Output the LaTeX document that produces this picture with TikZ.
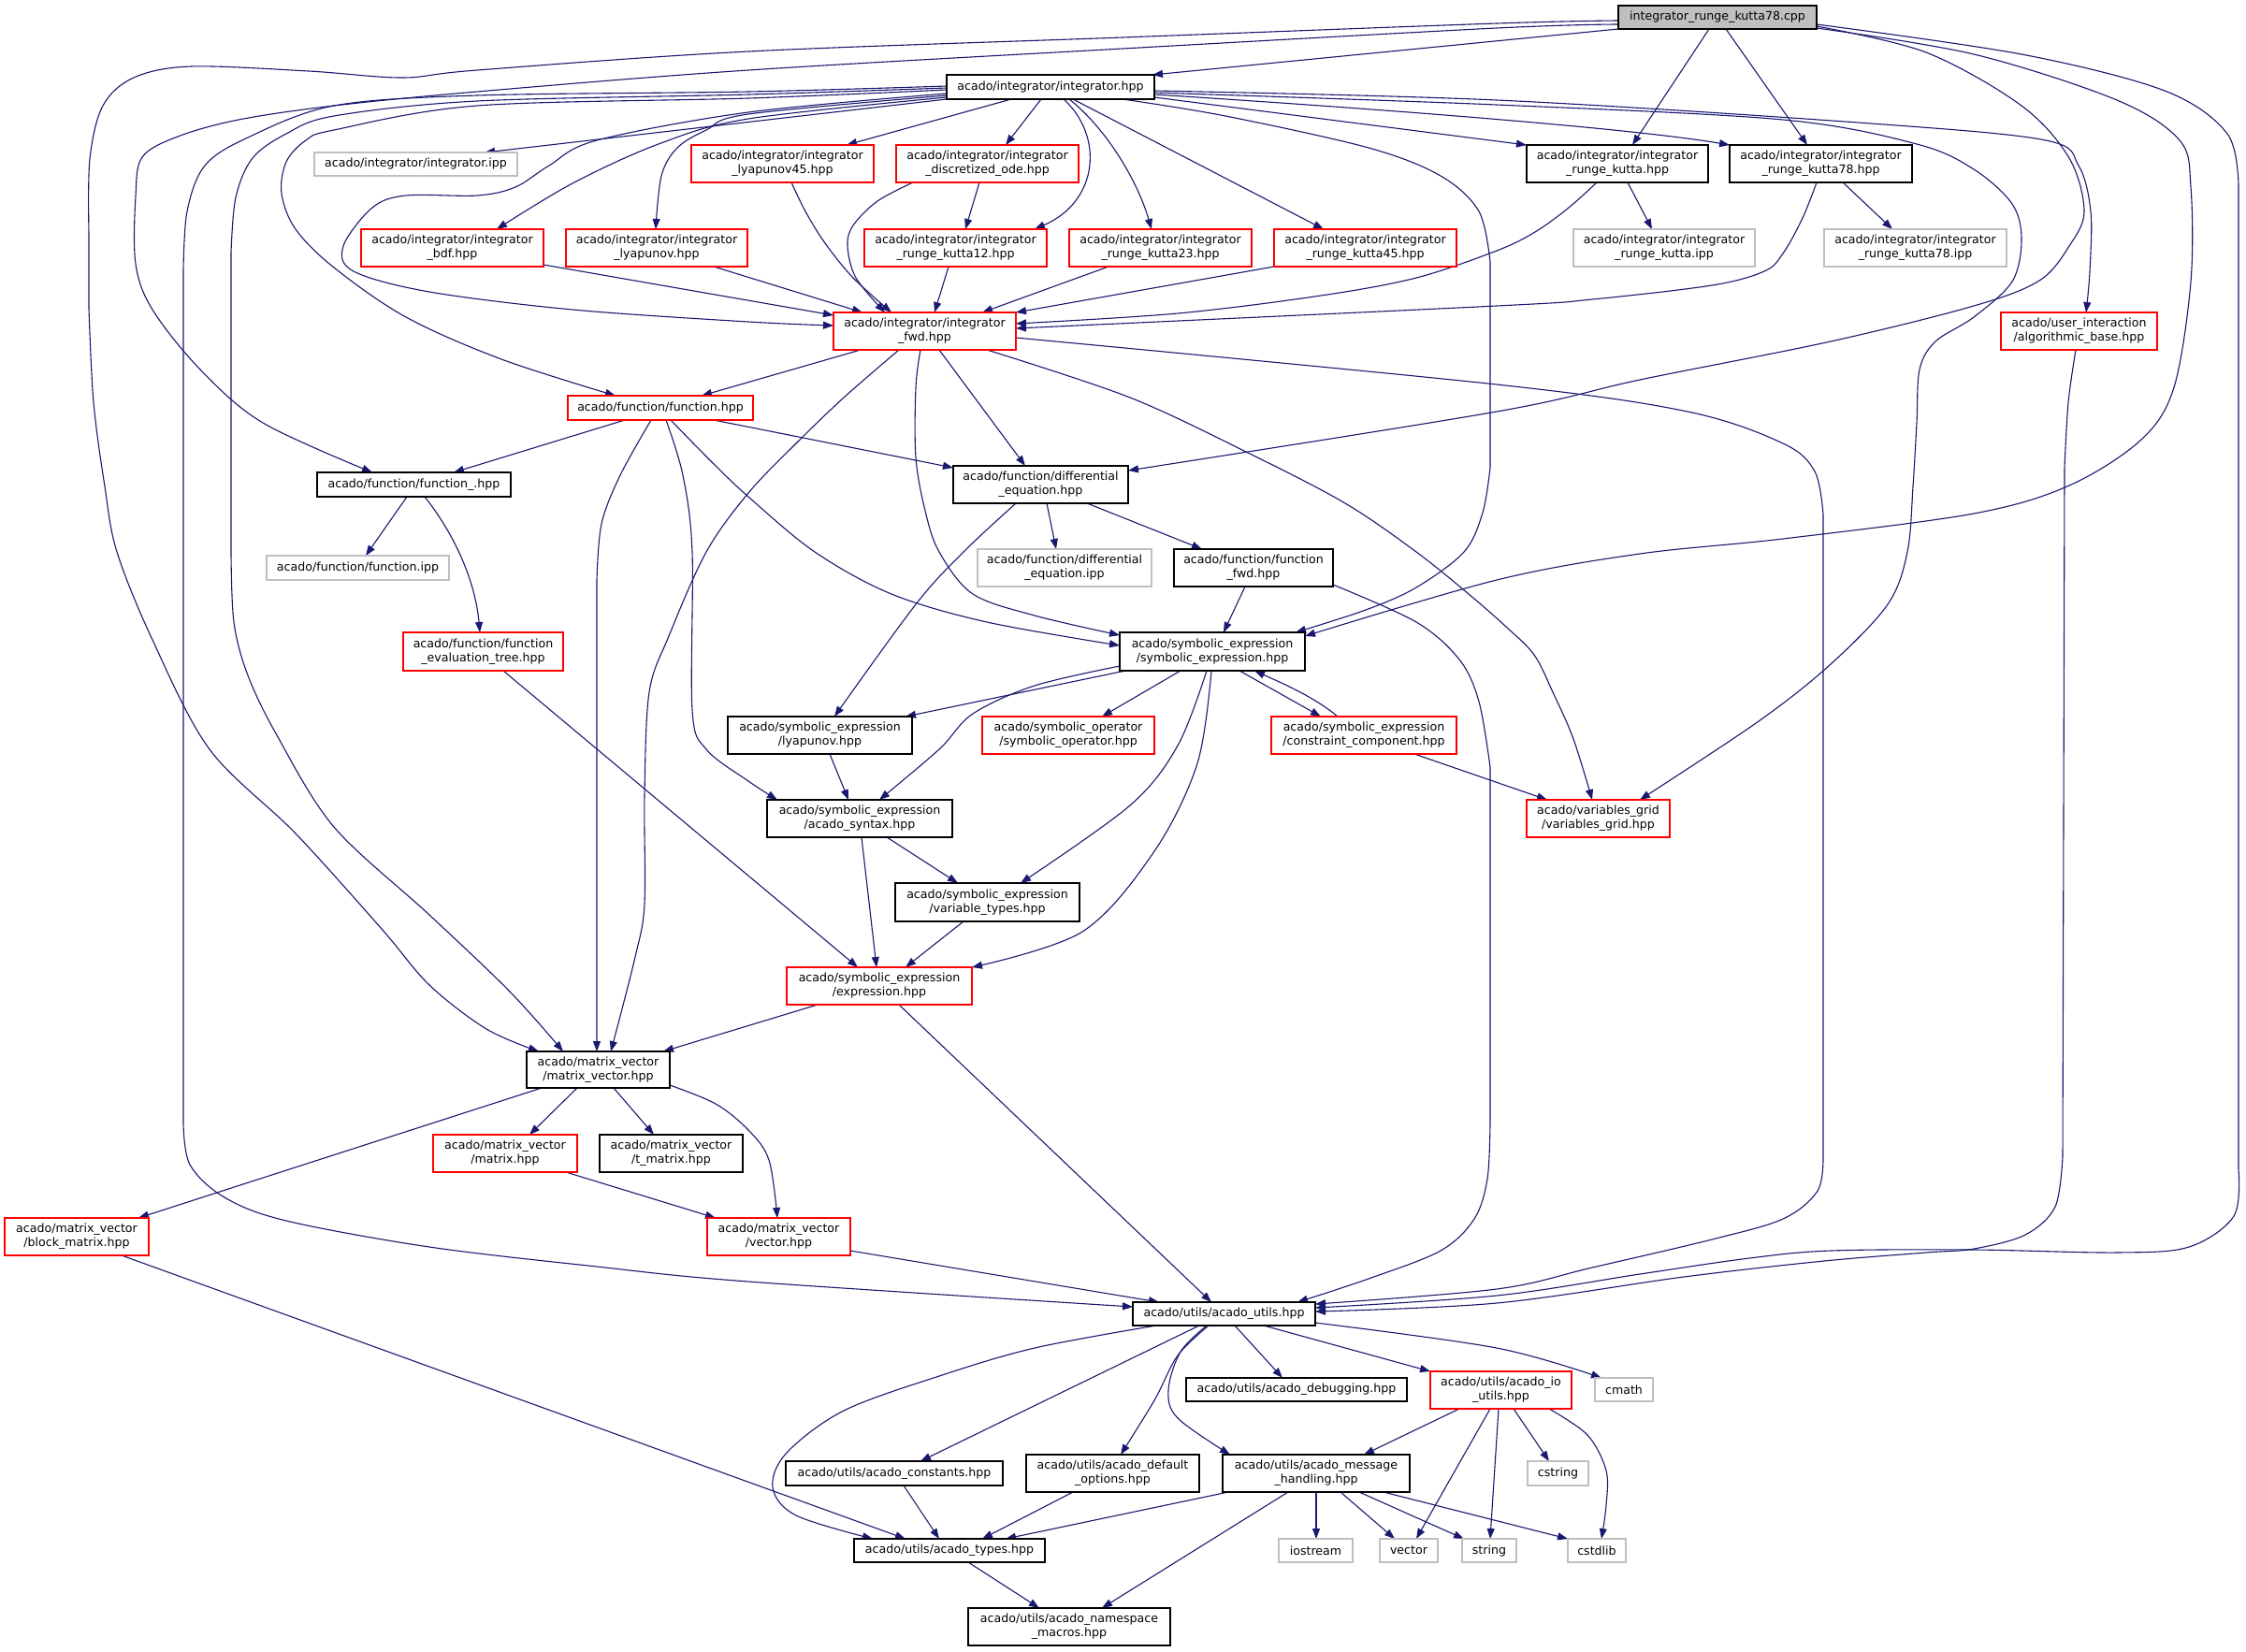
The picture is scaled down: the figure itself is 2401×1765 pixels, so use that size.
\documentclass[tikz,border=0pt]{standalone}
\usepackage{fontspec}
\setmainfont{DejaVu Sans}
\usetikzlibrary{arrows.meta}
\definecolor{edgecol}{HTML}{191970}
\definecolor{boxgray}{HTML}{BFBFBF}
\definecolor{boxred}{HTML}{FF0000}
\pgfdeclarelayer{bglayer}
\pgfdeclarelayer{edgelayer}
\pgfsetlayers{bglayer,edgelayer,main}
\newcommand\mybox[7]{\node[#1,anchor=north west,minimum width=#4pt,minimum height=#5pt] (#6) at (#2,#3) {#7};}
\begin{document}
\begin{tikzpicture}[x=1pt,y=-1pt,
  base/.style={draw,fill=white,line width=1.3pt,inner sep=0pt,outer sep=0pt,align=center,font=\fontsize{12.6}{15}\selectfont,text=black},
  bk/.style={base,draw=black},
  rd/.style={base,draw=boxred},
  gy/.style={base,draw=boxgray},
  rt/.style={base,draw=black,fill=boxgray},
  edg/.style={draw=edgecol,line width=1.1pt,-{Triangle[length=11pt,width=8pt]}}]
\useasboundingbox (0,0) rectangle (2401,1765);
\begin{pgfonlayer}{bglayer}
\fill[white] (0,0) rectangle (2401,1765);
\end{pgfonlayer}
% nodes
\mybox{rt}{1730}{6}{212}{25}{R}{integrator\_runge\_kutta78.cpp}
\mybox{bk}{1012}{80}{222}{26}{IH}{acado/integrator/integrator.hpp}
\mybox{gy}{336}{163}{217}{25}{IPP}{acado/integrator/integrator.ipp}
\mybox{rd}{739}{155}{195}{40}{L45}{acado/integrator/integrator\\\_lyapunov45.hpp}
\mybox{rd}{958}{155}{195}{40}{DO}{acado/integrator/integrator\\\_discretized\_ode.hpp}
\mybox{bk}{1632}{155}{194}{40}{RK}{acado/integrator/integrator\\\_runge\_kutta.hpp}
\mybox{bk}{1849}{155}{195}{40}{RK78}{acado/integrator/integrator\\\_runge\_kutta78.hpp}
\mybox{rd}{386}{245}{195}{40}{BDF}{acado/integrator/integrator\\\_bdf.hpp}
\mybox{rd}{605}{245}{194}{40}{LY}{acado/integrator/integrator\\\_lyapunov.hpp}
\mybox{rd}{924}{245}{195}{40}{RK12}{acado/integrator/integrator\\\_runge\_kutta12.hpp}
\mybox{rd}{1143}{245}{195}{40}{RK23}{acado/integrator/integrator\\\_runge\_kutta23.hpp}
\mybox{rd}{1362}{245}{195}{40}{RK45}{acado/integrator/integrator\\\_runge\_kutta45.hpp}
\mybox{gy}{1682}{245}{194}{40}{RKI}{acado/integrator/integrator\\\_runge\_kutta.ipp}
\mybox{gy}{1950}{245}{195}{40}{RK78I}{acado/integrator/integrator\\\_runge\_kutta78.ipp}
\mybox{rd}{891}{334}{195}{40}{IF}{acado/integrator/integrator\\\_fwd.hpp}
\mybox{rd}{2139}{334}{167}{40}{AB}{acado/user\_interaction\\/algorithmic\_base.hpp}
\mybox{rd}{607}{423}{198}{26}{FH}{acado/function/function.hpp}
\mybox{bk}{1019}{498}{187}{40}{DE}{acado/function/differential\\\_equation.hpp}
\mybox{bk}{339}{505}{207}{26}{FU}{acado/function/function\_.hpp}
\mybox{gy}{285}{594}{195}{26}{FIPP}{acado/function/function.ipp}
\mybox{gy}{1045}{587}{186}{40}{DEI}{acado/function/differential\\\_equation.ipp}
\mybox{bk}{1255}{587}{170}{40}{FF}{acado/function/function\\\_fwd.hpp}
\mybox{rd}{431}{676}{171}{41}{FET}{acado/function/function\\\_evaluation\_tree.hpp}
\mybox{bk}{1197}{676}{198}{41}{SE}{acado/symbolic\_expression\\/symbolic\_expression.hpp}
\mybox{bk}{778}{766}{197}{40}{SL}{acado/symbolic\_expression\\/lyapunov.hpp}
\mybox{rd}{1050}{766}{184}{40}{SO}{acado/symbolic\_operator\\/symbolic\_operator.hpp}
\mybox{rd}{1359}{766}{198}{40}{CC}{acado/symbolic\_expression\\/constraint\_component.hpp}
\mybox{rd}{1632}{855}{153}{40}{VG}{acado/variables\_grid\\/variables\_grid.hpp}
\mybox{bk}{820}{855}{198}{40}{AS}{acado/symbolic\_expression\\/acado\_syntax.hpp}
\mybox{bk}{957}{944}{197}{41}{VT}{acado/symbolic\_expression\\/variable\_types.hpp}
\mybox{rd}{841}{1034}{198}{40}{EX}{acado/symbolic\_expression\\/expression.hpp}
\mybox{bk}{563}{1124}{153}{39}{MV}{acado/matrix\_vector\\/matrix\_vector.hpp}
\mybox{rd}{463}{1213}{154}{40}{MA}{acado/matrix\_vector\\/matrix.hpp}
\mybox{bk}{641}{1213}{153}{40}{TM}{acado/matrix\_vector\\/t\_matrix.hpp}
\mybox{rd}{5}{1302}{154}{40}{BM}{acado/matrix\_vector\\/block\_matrix.hpp}
\mybox{rd}{756}{1302}{153}{40}{VE}{acado/matrix\_vector\\/vector.hpp}
\mybox{bk}{1211}{1392}{195}{25}{AU}{acado/utils/acado\_utils.hpp}
\mybox{bk}{1268}{1473}{236}{25}{DBG}{acado/utils/acado\_debugging.hpp}
\mybox{rd}{1529}{1466}{151}{40}{IO}{acado/utils/acado\_io\\\_utils.hpp}
\mybox{gy}{1705}{1473}{62}{25}{CM}{cmath}
\mybox{bk}{840}{1562}{232}{26}{AC}{acado/utils/acado\_constants.hpp}
\mybox{bk}{1097}{1555}{185}{40}{DOP}{acado/utils/acado\_default\\\_options.hpp}
\mybox{bk}{1307}{1555}{200}{40}{MH}{acado/utils/acado\_message\\\_handling.hpp}
\mybox{gy}{1633}{1562}{65}{26}{CS}{cstring}
\mybox{bk}{913}{1645}{204}{25}{AT}{acado/utils/acado\_types.hpp}
\mybox{gy}{1367}{1645}{79}{25}{IOS}{iostream}
\mybox{gy}{1475}{1645}{62}{25}{VEC}{vector}
\mybox{gy}{1563}{1645}{58}{25}{STR}{string}
\mybox{gy}{1676}{1645}{62}{25}{CSTD}{cstdlib}
\mybox{bk}{1035}{1719}{216}{40}{NM}{acado/utils/acado\_namespace\\\_macros.hpp}
\begin{pgfonlayer}{edgelayer}
% root
\draw[edg] (R.south west) -- (IH.north -| 1232,0);
\draw[edg] (R.south -| 1827,0) -- (RK.north -| 1745,0);
\draw[edg] (R.south -| 1845,0) -- (RK78.north -| 1932,0);
\draw[edg] plot[smooth,tension=.55] coordinates {(R.west |- 0,22) (1600,25) (1200,40) (800,55) (510,75) (430,83) (330,76) (204,71) (143,83) (110,113) (96,170) (95,250)} -- plot[smooth,tension=.55] coordinates {(95,330) (100,430) (112,520) (125,590) (163,684) (224,801) (316,891) (408,993) (459,1053) (520,1100) (MV.north -| 576,0)};
\draw[edg] plot[smooth,tension=.55] coordinates {(R.west |- 0,26) (1600,30) (1200,52) (800,75) (510,98) (357,113) (255,128) (190,146) (152,168) (145,210) (145,282) (163,331) (214,395) (281,452) (FU.north -| 398,0)};
\draw[edg] plot[smooth,tension=.55] coordinates {(R.east |- 0,28) (2059,56) (2161,113) (2212,169) (2228,226) (2212,263) (2180,300) (2110,327) (1957,365) (1753,406) (1600,440) (DE.east |- 0,503)};
\draw[edg] plot[smooth,tension=.55] coordinates {(R.east |- 0,30) (2110,58) (2263,107) (2330,150) (2342,200) (2342,301) (2324,414) (2289,470) (2212,519) (2110,549) (1906,576) (1753,592) (1600,620) (SE.east |- 0,680)};
\draw[edg] plot[smooth,tension=.55] coordinates {(R.east |- 0,26) (2161,58) (2314,97) (2381,143) (2393,200)} -- plot[smooth,tension=.55] coordinates {(2393,1250) (2388,1300) (2340,1333) (2263,1339) (2110,1336) (1957,1337) (1870,1345) (1753,1362) (1600,1385) (AU.east |- 0,1398)};
% integrator.hpp
\draw[edg] (IH.south west) -- (IPP.north -| 518,0);
\draw[edg] plot[smooth,tension=.55] coordinates {(IH.west |- 0,104) (800,127) (704,154) (612,196) (BDF.north -| 531,0)};
\draw[edg] plot[smooth,tension=.55] coordinates {(IH.west |- 0,102) (800,122) (755,139) (724,158) (707,188) (LY.north -| 701,0)};
\draw[edg] (IH.south -| 1081,0) -- (L45.north -| 905,0);
\draw[edg] (IH.south -| 1113,0) -- (DO.north -| 1075,0);
\draw[edg] (IH.south -| 1137,0) .. controls (1180,145) and (1175,215) .. (RK12.north -| 1106,0);
\draw[edg] (IH.south -| 1143,0) .. controls (1180,135) and (1215,190) .. (RK23.north -| 1231,0);
\draw[edg] (IH.south -| 1147,0) -- (RK45.north -| 1415,0);
\draw[edg] plot[smooth,tension=.55] coordinates {(IH.south -| 1200,0) (1310,124) (1463,158) (1540,188) (1581,226) (1593,280)} -- plot[smooth,tension=.55] coordinates {(1593,500) (1585,548) (1565,590) (1514,628) (1460,652) (SE.north -| 1385,0)};
\draw[edg] (IH.east |- 0,104) -- (RK.north west);
\draw[edg] (IH.east |- 0,101) .. controls (1500,118) and (1750,138) .. (RK78.north west);
\draw[edg] plot[smooth,tension=.55] coordinates {(IH.east |- 0,99) (1600,112) (1906,128) (2049,154) (2110,181) (2151,218) (2161,256) (2151,301) (2110,339) (2069,365) (2052,395) (2049,452) (2045,520) (2039,590) (2018,646) (1957,710) (1880,771) (VG.north -| 1753,0)};
\draw[edg] plot[smooth,tension=.55] coordinates {(IH.east |- 0,97) (1600,107) (2000,132) (2187,150) (2222,177) (2235,226) (2234,290) (AB.north -| 2230,0)};
\draw[edg] plot[smooth,tension=.55] coordinates {(IH.west |- 0,100) (800,120) (638,150) (587,177) (551,200) (510,209) (434,209) (398,222) (367,263) (378,290) (459,312) (612,331) (800,344) (IF.west |- 0,348)};
\draw[edg] plot[smooth,tension=.55] coordinates {(IH.west |- 0,96) (800,105) (510,113) (357,139) (327,150) (306,173) (301,207) (316,245) (357,286) (434,339) (536,384) (FH.north -| 658,0)};
\draw[edg] plot[smooth,tension=.55] coordinates {(IH.west |- 0,94) (800,101) (510,108) (357,124) (306,143) (270,169) (252,211) (247,270)} -- plot[smooth,tension=.55] coordinates {(247,590) (250,665) (265,722) (296,786) (357,884) (459,978) (545,1060) (MV.north -| 602,0)};
\draw[edg] plot[smooth,tension=.55] coordinates {(IH.west |- 0,92) (800,98) (510,102) (357,113) (265,147) (219,177) (200,226) (196,290)} -- plot[smooth,tension=.55] coordinates {(196,1200) (203,1245) (240,1280) (306,1305) (459,1333) (638,1354) (800,1370) (AU.west |- 0,1397)};
% into integrator_fwd
\draw[edg] (BDF.east |- 0,283) -- (IF.west |- 0,337);
\draw[edg] (LY.south -| 763,0) -- (IF.north -| 922,0);
\draw[edg] plot[smooth,tension=.55] coordinates {(L45.south -| 846,0) (861,226) (882,260) (912,297) (IF.north -| 953,0)};
\draw[edg] plot[smooth,tension=.55] coordinates {(DO.south -| 976,0) (938,215) (912,241) (906,263) (915,297) (IF.north -| 946,0)};
\draw[edg] (DO.south -| 1047,0) -- (RK12.north -| 1032,0);
\draw[edg] (RK12.south -| 1014,0) -- (IF.north -| 999,0);
\draw[edg] (RK23.south -| 1185,0) -- (IF.north -| 1050,0);
\draw[edg] (RK45.south west) -- (IF.north east);
\draw[edg] plot[smooth,tension=.55] coordinates {(RK.south -| 1707,0) (1677,222) (1641,248) (1600,268) (1514,297) (1412,316) (1259,335) (IF.east |- 0,346)};
\draw[edg] plot[smooth,tension=.55] coordinates {(RK78.south -| 1942,0) (1927,233) (1906,271) (1886,290) (1830,305) (1702,320) (1600,327) (IF.east |- 0,351)};
\draw[edg] (RK.south -| 1740,0) -- (RKI.north -| 1766,0);
\draw[edg] (RK78.south -| 1970,0) -- (RK78I.north -| 2023,0);
% from integrator_fwd
\draw[edg] (IF.south -| 920,0) -- (FH.north -| 750,0);
\draw[edg] plot[smooth,tension=.55] coordinates {(IF.south -| 961,0) (902,425) (851,474) (800,527) (755,590) (715,680) (694,740) (689,850) (689,966) (679,1023) (MV.north -| 653,0)};
\draw[edg] (IF.south -| 1004,0) -- (DE.north -| 1096,0);
\draw[edg] plot[smooth,tension=.55] coordinates {(IF.south -| 984,0) (979,414) (979,489) (989,546) (1004,590) (1040,635) (1106,658) (SE.west |- 0,679)};
\draw[edg] plot[smooth,tension=.55] coordinates {(IF.south -| 1055,0) (1208,425) (1336,485) (1438,538) (1514,590) (1570,635) (1610,670) (1640,700) (1660,740) (1682,790) (VG.north -| 1702,0)};
\draw[edg] plot[smooth,tension=.55] coordinates {(IF.east |- 0,361) (1600,411) (1804,440) (1906,474) (1940,504) (1949,550)} -- plot[smooth,tension=.55] coordinates {(1949,1236) (1943,1273) (1906,1303) (1830,1325) (1702,1355) (1600,1378) (AU.east |- 0,1394)};
\draw[edg] plot[smooth,tension=.55] coordinates {(AB.south -| 2219,0) (2211,430) (2207,500)} -- plot[smooth,tension=.55] coordinates {(2205,1236) (2197,1290) (2165,1320) (2110,1335) (2059,1339) (1950,1348) (1800,1365) (1600,1393) (AU.east |- 0,1402)};
% function.hpp
\draw[edg] (FH.south -| 668,0) -- (FU.north -| 485,0);
\draw[edg] (FH.south -| 763,0) -- (DE.west |- 0,500);
\draw[edg] plot[smooth,tension=.55] coordinates {(FH.south -| 696,0) (663,508) (643,560) (638,620)} -- (MV.north -| 638,0);
\draw[edg] plot[smooth,tension=.55] coordinates {(FH.south -| 712,0) (730,508) (740,590) (740,759) (755,801) (800,835) (AS.north -| 831,0)};
\draw[edg] plot[smooth,tension=.55] coordinates {(FH.south -| 717,0) (760,493) (800,531) (871,590) (953,635) (1055,665) (SE.west |- 0,690)};
% function_.hpp
\draw[edg] (FU.south -| 435,0) -- (FIPP.north -| 391,0);
\draw[edg] (FU.south -| 454,0) .. controls (485,570) and (508,620) .. (FET.north -| 513,0);
\draw[edg] (FET.south -| 538,0) -- (EX.north -| 917,0);
% differential_equation
\draw[edg] (DE.south -| 1119,0) -- (DEI.north -| 1129,0);
\draw[edg] (DE.south -| 1162,0) -- (FF.north -| 1285,0);
\draw[edg] plot[smooth,tension=.55] coordinates {(DE.south -| 1086,0) (1030,590) (979,646) (SL.north -| 892,0)};
% function_fwd
\draw[edg] (FF.south -| 1331,0) -- (SE.north -| 1308,0);
\draw[edg] plot[smooth,tension=.55] coordinates {(FF.east |- 0,625) (1514,665) (1560,705) (1581,750) (1593,820)} -- plot[smooth,tension=.55] coordinates {(1593,1200) (1590,1260) (1576,1303) (1540,1337) (1463,1367) (AU.north -| 1387,0)};
% symbolic_expression
\draw[edg] (SE.south -| 1203,0) -- (SL.north -| 968,0);
\draw[edg] plot[smooth,tension=.55] coordinates {(SE.west |- 0,712) (1106,733) (1040,763) (1004,801) (AS.north -| 940,0)};
\draw[edg] (SE.south -| 1262,0) -- (SO.north -| 1178,0);
\draw[edg] plot[smooth,tension=.55] coordinates {(SE.south -| 1290,0) (1259,797) (1208,861) (VT.north -| 1091,0)};
\draw[edg] plot[smooth,tension=.55] coordinates {(SE.south -| 1295,0) (1280,816) (1234,910) (1157,996) (EX.north east)};
\draw[edg] (SE.south -| 1325,0) -- (CC.north -| 1412,0);
\draw[edg] (CC.north -| 1430,0) .. controls (1405,745) and (1370,730) .. (SE.south -| 1341,0);
\draw[edg] (CC.south -| 1512,0) -- (VG.north -| 1654,0);
\draw[edg] (SL.south -| 887,0) -- (AS.north -| 907,0);
\draw[edg] (AS.south -| 948,0) -- (VT.north -| 1024,0);
\draw[edg] (AS.south -| 921,0) -- (EX.north -| 937,0);
\draw[edg] (VT.south -| 1030,0) -- (EX.north -| 968,0);
\draw[edg] (EX.south -| 874,0) -- (MV.north -| 709,0);
\draw[edg] (EX.south -| 961,0) -- (AU.north -| 1295,0);
% matrix_vector
\draw[edg] (MV.south -| 579,0) -- (BM.north -| 148,0);
\draw[edg] (MV.south -| 617,0) -- (MA.north -| 566,0);
\draw[edg] (MV.south -| 656,0) -- (TM.north -| 699,0);
\draw[edg] plot[smooth,tension=.55] coordinates {(MV.east |- 0,1160) (765,1180) (800,1208) (822,1240) (VE.north -| 831,0)};
\draw[edg] (MA.south -| 605,0) -- (VE.north -| 765,0);
\draw[edg] (VE.east |- 0,1337) -- (AU.north -| 1239,0);
\draw[edg] (BM.south -| 130,0) -- (AT.north -| 968,0);
% acado_utils
\draw[edg] plot[smooth,tension=.55] coordinates {(AU.south -| 1236,0) (1106,1441) (1004,1471) (902,1508) (841,1553) (826,1590) (851,1620) (AT.north -| 933,0)};
\draw[edg] (AU.south -| 1282,0) -- (AC.north -| 984,0);
\draw[edg] plot[smooth,tension=.55] coordinates {(AU.south -| 1292,0) (1259,1449) (1234,1497) (DOP.north -| 1198,0)};
\draw[edg] plot[smooth,tension=.55] coordinates {(AU.south -| 1290,0) (1262,1445) (1249,1486) (1259,1516) (MH.north -| 1315,0)};
\draw[edg] (AU.south -| 1320,0) -- (DBG.north -| 1371,0);
\draw[edg] (AU.south -| 1351,0) -- (IO.north west);
\draw[edg] plot[smooth,tension=.55] coordinates {(AU.east |- 0,1414) (1600,1441) (CM.north -| 1712,0)};
% io utils
\draw[edg] (IO.south -| 1560,0) -- (MH.north -| 1458,0);
\draw[edg] (IO.south -| 1593,0) -- (VEC.north -| 1514,0);
\draw[edg] (IO.south -| 1602,0) -- (STR.north -| 1593,0);
\draw[edg] (IO.south -| 1618,0) -- (CS.north -| 1656,0);
\draw[edg] plot[smooth,tension=.55] coordinates {(IO.south -| 1656,0) (1697,1534) (1717,1572) (1717,1609) (CSTD.north -| 1712,0)};
% message handling
\draw[edg] (MH.south -| 1313,0) -- (AT.north -| 1075,0);
\draw[edg] (MH.south -| 1377,0) -- (NM.north -| 1178,0);
\draw[edg] (MH.south -| 1407,0) -- (IOS.north -| 1407,0);
\draw[edg] (MH.south -| 1433,0) -- (VEC.north -| 1491,0);
\draw[edg] (MH.south -| 1453,0) -- (STR.north -| 1565,0);
\draw[edg] (MH.south -| 1479,0) -- (CSTD.north west);
\draw[edg] (AC.south -| 966,0) -- (AT.north -| 1004,0);
\draw[edg] (DOP.south -| 1147,0) -- (AT.north -| 1050,0);
\draw[edg] (AT.south -| 1035,0) -- (NM.north -| 1111,0);
\end{pgfonlayer}
\end{tikzpicture}
\end{document}
